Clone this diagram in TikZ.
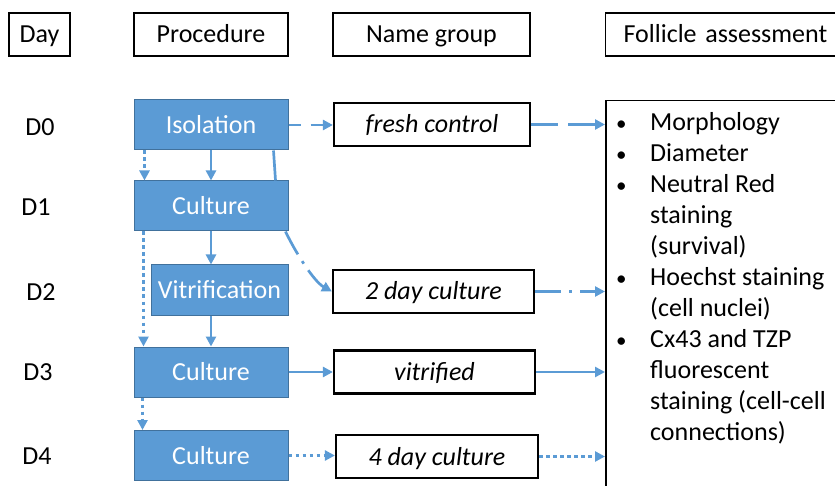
\documentclass[tikz,border=0pt]{standalone}
\usepackage{fontspec}
\setmainfont{Carlito}
\usetikzlibrary{arrows.meta}
\definecolor{ob}{HTML}{5B9BD5}
\definecolor{obd}{HTML}{41719C}
\begin{document}
\begin{tikzpicture}[x=1pt,y=-1pt, font=\fontsize{26}{30}\selectfont,
 hdr/.style={draw=black, line width=1.2pt, minimum height=43pt, inner sep=0pt, text height=23pt, text depth=6pt},
 proc/.style={fill=ob, draw=obd, line width=1pt, text=white, minimum height=50pt, minimum width=154pt, inner sep=0pt},
 grp/.style={draw=black, line width=2.2pt, minimum height=43pt, minimum width=197pt, inner sep=0pt, text height=23pt, text depth=6pt, font=\fontsize{26}{30}\selectfont\itshape},
 dayl/.style={inner sep=0pt},
 conn/.style={draw=ob, line width=2.7pt, -{Triangle[length=10pt,width=10pt]}},
 solidc/.style={conn},
 dashc/.style={conn, dash pattern=on 12pt off 10pt},
 ldashc/.style={conn, dash pattern=on 27pt off 10pt},
 dotc/.style={conn, dash pattern=on 3.5pt off 3.5pt},
 dashdotc/.style={conn, dash pattern=on 26pt off 8pt on 3pt off 8pt},
 plainc/.style={draw=ob, line width=2.7pt}
]
\useasboundingbox (0,0) rectangle (835,486);
\clip (0,0) rectangle (835,486);
% headers
\node[hdr, minimum width=61pt] (hday) at (39.5,34.5) {Day};
\node[hdr, minimum width=154pt] (hproc) at (211,34.5) {Procedure};
\node[hdr, minimum width=197pt] (hname) at (431.5,34.5) {Name group};
\node[hdr, anchor=west, text width=250pt, align=left, inner xsep=18pt] (hfol) at (605,34.5) {Follicle assessment};
% days
\node[dayl] (d0) at (40,127) {D0};
\node[dayl] (d1) at (36,207) {D1};
\node[dayl] (d2) at (41,292) {D2};
\node[dayl] (d3) at (38,372) {D3};
\node[dayl] (d4) at (37,456) {D4};
% procedures
\node[proc] (iso) at (211,125) {Isolation};
\node[proc] (cul1) at (211,206) {Culture};
\node[proc, minimum width=137pt] (vit) at (219.5,290) {Vitrification};
\node[proc] (cul3) at (211,372) {Culture};
\node[proc] (cul4) at (211,455.5) {Culture};
% groups
\node[grp, minimum width=196pt] (fc) at (432,124.5) {fresh control};
\node[grp, minimum width=201pt] (two) at (433.5,291.5) {2 day culture};
\node[grp, minimum width=201pt] (vitr) at (434.5,372) {vitrified};
\node[grp, minimum width=202pt] (four) at (437,456.5) {4 day culture};
% assessment
\node[draw=black, line width=1.5pt, anchor=north west, minimum width=260pt, minimum height=420pt] (fa) at (605,100) {};
\node[anchor=base west, inner sep=0pt, font=\fontsize{26}{31}\selectfont] (list) at (616,131) {%
\begin{tabular}[t]{@{}l@{}l@{}}
\makebox[34pt][l]{\fontsize{21}{21}\selectfont •} & Morphology\\
\makebox[34pt][l]{\fontsize{21}{21}\selectfont •} & Diameter\\
\makebox[34pt][l]{\fontsize{21}{21}\selectfont •} & Neutral Red\\
 & staining\\
 & (survival)\\
\makebox[34pt][l]{\fontsize{21}{21}\selectfont •} & Hoechst staining\\
 & (cell nuclei)\\
\makebox[34pt][l]{\fontsize{21}{21}\selectfont •} & Cx43 and TZP\\
 & fluorescent\\
 & staining (cell-cell\\
 & connections)
\end{tabular}};
% connectors
\draw[dashc] (iso.east) -- (iso.east -| fc.west);
\draw[ldashc] (fc.east) -- (fc.east -| fa.west);
\draw[solidc] (iso.south) -- (cul1.north);
\draw[dotc] ([xshift=11pt]iso.south west) -- ([xshift=11pt]cul1.north west);
\draw[plainc] ([xshift=-15pt]iso.south east) -- ([xshift=-13pt]cul1.north east);
\draw[solidc] (cul1.south) -- (cul1.south |- vit.north);
\draw[dotc] ([xshift=10pt]cul1.south west) -- ([xshift=10pt]cul3.north west);
\draw[dashdotc] ([xshift=-3pt]cul1.south east) .. controls +(10,21) and +(-18,-10) .. (two.west);
\draw[dashdotc] (two.east) -- (two.east -| fa.west);
\draw[solidc] (cul3.north |- vit.south) -- (cul3.north);
\draw[solidc] (cul3.east) -- (cul3.east -| vitr.west);
\draw[solidc] (vitr.east) -- (vitr.east -| fa.west);
\draw[dotc] ([xshift=9pt]cul3.south west) -- ([xshift=9pt]cul4.north west);
\draw[dotc] (cul4.east) -- (cul4.east -| four.west);
\draw[dotc] (four.east) -- (four.east -| fa.west);
\end{tikzpicture}
\end{document}
